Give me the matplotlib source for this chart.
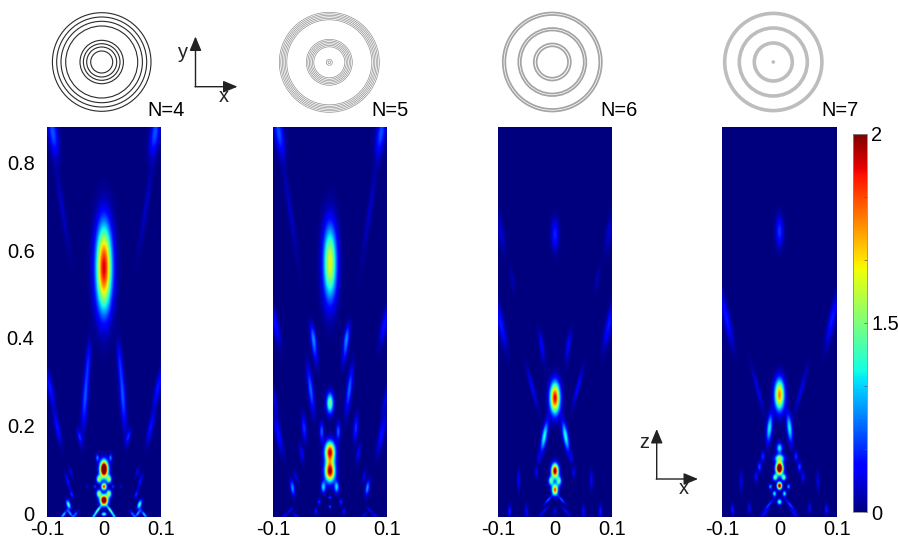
import matplotlib
matplotlib.use("Agg")
import matplotlib.pyplot as plt
import numpy as np

plt.rcParams.update({
    "font.family": ["Liberation Sans", "DejaVu Sans"],
    "font.size": 14.4,
})

W, H = 898, 538

# field range of the maps
X_RANGE = (-0.1, 0.1)
Z_RANGE = (-0.009, 0.882)

x_ticks = [-0.1, 0, 0.1]
x_labels = ["-0.1", "0", "0.1"]
z_ticks = [0, 0.2, 0.4, 0.6, 0.8]
z_labels = ["0", "0.2", "0.4", "0.6", "0.8"]
cbar_ticks = [0, 1 / 3, 2 / 3, 1, 4 / 3, 5 / 3, 2]
cbar_labels = ["0", "", "", "1.5", "", "", "2"]

panel_names = ["N=4", "N=5", "N=6", "N=7"]

# intensity spots: (x, z, width x, width z, peak, tilt dx/dz)
# spots with x > 0 also appear mirrored at -x
spots_n4 = [
    (0, 0.561, 0.0095, 0.066, 1.85, 0),
    (0.09, 0.87, 0.0055, 0.035, 0.42, 0.1),
    (0.074, 0.70, 0.003, 0.07, 0.13, 0.12),
    (0.033, 0.266, 0.0035, 0.05, 0.42, -0.05),
    (0.0275, 0.350, 0.003, 0.03, 0.22, -0.05),
    (0.095, 0.286, 0.0035, 0.03, 0.3, 0.15),
    (0.082, 0.194, 0.003, 0.025, 0.28, 0.15),
    (0.043, 0.174, 0.0025, 0.012, 0.32, 0.15),
    (0, 0.100, 0.0048, 0.013, 2.8, 0),
    (0, 0.060, 0.003, 0.005, 1.8, 0),
    (0, 0.029, 0.0045, 0.008, 2.6, 0),
    (0.0088, 0.077, 0.003, 0.006, 1.1, 0),
    (0.0088, 0.044, 0.003, 0.006, 1.1, 0),
    (0.016, 0.060, 0.0016, 0.003, 0.4, 0),
    (0.0117, 0.126, 0.002, 0.006, 0.5, 0),
    (0.03, 0.060, 0.0014, 0.003, 0.2, 0),
    (0, -0.003, 0.003, 0.003, 1.0, 0),
    (0.0105, 0.007, 0.002, 0.006, 1.0, -0.5),
    (0.0175, -0.007, 0.002, 0.006, 0.7, -0.5),
    (0.0626, 0.019, 0.0025, 0.007, 0.9, 0.2),
    (0.064, 0.072, 0.002, 0.012, 0.28, 0.2),
    (0.0567, 0.042, 0.002, 0.006, 0.35, 0.2),
    (0.0585, 0.093, 0.002, 0.008, 0.2, 0.2),
    (0.071, -0.004, 0.002, 0.006, 0.7, -0.5),
    (0.06, -0.001, 0.002, 0.006, 0.6, 0.5),
    (0.051, -0.004, 0.002, 0.006, 0.5, -0.5),
]
spots_n5 = [
    (0, 0.572, 0.0082, 0.058, 1.25, 0),
    (0.09, 0.87, 0.0055, 0.035, 0.4, 0.1),
    (0.07, 0.69, 0.003, 0.075, 0.13, 0.115),
    (0.096, 0.43, 0.004, 0.03, 0.28, 0.15),
    (0.0287, 0.403, 0.003, 0.02, 0.4, 0.13),
    (0.028, 0.374, 0.003, 0.025, 0.32, 0.13),
    (0.034, 0.282, 0.0032, 0.035, 0.45, 0.09),
    (0, 0.251, 0.0042, 0.016, 1.0, 0),
    (0.0146, 0.186, 0.0025, 0.014, 0.45, 0),
    (0.0456, 0.194, 0.0028, 0.02, 0.35, 0.05),
    (0.05, 0.136, 0.0025, 0.015, 0.22, 0.1),
    (0, 0.139, 0.006, 0.016, 1.9, 0),
    (0, 0.095, 0.006, 0.016, 2.0, 0),
    (0.0117, 0.059, 0.0028, 0.009, 0.7, 0),
    (0, 0.035, 0.0018, 0.0025, 0.4, 0),
    (0, 0.014, 0.0018, 0.0025, 0.45, 0),
    (0.0193, 0.025, 0.0018, 0.005, 0.35, 0),
    (0.0246, 0.003, 0.0018, 0.005, 0.3, 0),
    (0.066, 0.057, 0.0025, 0.012, 0.55, 0.1),
    (0.06, 0.083, 0.002, 0.01, 0.2, 0.2),
    (0.07, 0.006, 0.002, 0.005, 0.25, -0.6),
    (0.06, -0.006, 0.002, 0.005, 0.22, 0.6),
    (0.08, -0.006, 0.002, 0.005, 0.22, -0.6),
    (0.091, 0.18, 0.0035, 0.03, 0.28, 0.15),
    (0.098, 0.26, 0.003, 0.025, 0.18, 0.15),
]
spots_n6 = [
    (0, 0.637, 0.0045, 0.024, 0.32, 0),
    (0.095, 0.640, 0.004, 0.03, 0.14, 0.1),
    (0.075, 0.533, 0.0025, 0.02, 0.1, 0.1),
    (0.095, 0.43, 0.004, 0.035, 0.3, 0.15),
    (0.023, 0.388, 0.0025, 0.02, 0.14, 0.15),
    (0.0234, 0.373, 0.0025, 0.025, 0.14, 0.1),
    (0.04, 0.286, 0.0025, 0.03, 0.24, 0.2),
    (0, 0.263, 0.006, 0.024, 1.85, 0),
    (0.0187, 0.175, 0.0032, 0.023, 0.8, -0.13),
    (0, 0.096, 0.0042, 0.011, 2.1, 0),
    (0, 0.053, 0.0036, 0.0085, 1.7, 0),
    (0.007, 0.073, 0.003, 0.007, 0.95, 0),
    (0.0117, 0.030, 0.002, 0.007, 0.45, -0.6),
    (0.02, 0.003, 0.002, 0.008, 0.28, -0.6),
    (0.033, 0.093, 0.002, 0.008, 0.24, 0),
    (0.029, 0.125, 0.002, 0.008, 0.2, 0),
    (0.064, 0.075, 0.002, 0.015, 0.24, 0),
    (0.08, 0.003, 0.002, 0.01, 0.32, 0),
    (0.05, 0.003, 0.002, 0.01, 0.25, 0),
    (0, 0.003, 0.002, 0.006, 0.22, 0),
]
spots_n7 = [
    (0, 0.644, 0.0045, 0.024, 0.35, 0),
    (0.092, 0.443, 0.004, 0.04, 0.3, 0.16),
    (0, 0.270, 0.0058, 0.024, 1.55, 0),
    (0.0175, 0.194, 0.0032, 0.022, 0.75, -0.07),
    (0.038, 0.282, 0.0025, 0.035, 0.2, 0.2),
    (0, 0.148, 0.0035, 0.008, 0.75, 0),
    (0, 0.125, 0.0055, 0.006, 1.0, 0),
    (0, 0.102, 0.0042, 0.0095, 2.8, 0),
    (0.0076, 0.081, 0.0028, 0.005, 1.0, 0),
    (0, 0.062, 0.0028, 0.0055, 2.3, 0),
    (0.0158, 0.060, 0.002, 0.004, 0.6, 0),
    (0.0088, 0.044, 0.0022, 0.0045, 0.8, 0),
    (0, 0.025, 0.0028, 0.0045, 0.9, 0),
    (0.0187, 0.018, 0.002, 0.01, 0.4, -0.6),
    (0.026, -0.002, 0.002, 0.008, 0.3, -0.6),
    (0.029, 0.129, 0.0022, 0.008, 0.35, 0),
    (0.035, 0.105, 0.0025, 0.008, 0.4, 0),
    (0.041, 0.082, 0.002, 0.008, 0.28, 0),
    (0.067, 0.072, 0.002, 0.015, 0.2, 0),
    (0.0527, 0.011, 0.002, 0.008, 0.25, 0),
    (0.082, 0.007, 0.002, 0.008, 0.32, 0),
]

# zone plate ring radii, one list per panel
rings_n4 = [49.3, 45, 40.7, 36, 21.7, 18.3, 15, 11]
rings_n5 = [50, 48.5, 47, 45.5, 44, 42.5, 23, 21.5, 20, 18.5, 17, 15.5, 3, 1.3]
rings_n6 = [49.5, 47, 34, 31.5, 18.5, 15.7]
rings_n7 = [48.6, 34, 19, 1]

ring_colors = ["#2a2a2a", "#909090", "#a4a4a4", "#bdbdbd"]
ring_widths = [0.8, 0.5, 1.25, 2.6]
ring_centers = [(101.7, 62), (329.3, 62.3), (552.3, 62), (773.3, 62)]
panel_boxes = [(47, 161), (273, 387), (498, 612), (722, 837)]
label_centers = [166, 390, 619, 840]


def px_axes(fig, x0, x1, y0, y1):
    return fig.add_axes([x0 / W, 1 - y1 / H, (x1 - x0) / W, (y1 - y0) / H])


def build_field(spots, xx, zz):
    X, Z = np.meshgrid(xx, zz)
    field = np.zeros_like(X)
    for x0, z0, sx, sz, amp, tilt in spots:
        sides = [x0] if x0 == 0 else [x0, -x0]
        for side in sides:
            sign = 1 if side >= 0 else -1
            u = X - (side + sign * tilt * (Z - z0))
            field += amp * np.exp(-u**2 / (2 * sx**2) - (Z - z0) ** 2 / (2 * sz**2))
    return field


fig = plt.figure(figsize=(W / 100, H / 100), dpi=100)

xx = np.linspace(X_RANGE[0], X_RANGE[1], 230)
zz = np.linspace(Z_RANGE[0], Z_RANGE[1], 790)

all_spots = [spots_n4, spots_n5, spots_n6, spots_n7]
im = None
for i, (spots, (x0, x1)) in enumerate(zip(all_spots, panel_boxes)):
    ax = px_axes(fig, x0, x1, 127, 517)
    im = ax.imshow(build_field(spots, xx, zz), origin="lower", aspect="auto",
                   extent=[*X_RANGE, *Z_RANGE], cmap="jet", vmin=0, vmax=2,
                   interpolation="bilinear")
    ax.set_xticks(x_ticks)
    ax.set_xticklabels(x_labels)
    ax.set_yticks(z_ticks if i == 0 else [])
    if i == 0:
        ax.set_yticklabels(z_labels)
    ax.tick_params(axis="x", length=0, pad=2)
    ax.tick_params(axis="y", length=0, pad=9)
    for spine in ax.spines.values():
        spine.set_visible(False)

# colorbar, label positions as in the picture
cax = px_axes(fig, 853, 867, 134, 512)
cb = fig.colorbar(im, cax=cax)
cb.set_ticks(cbar_ticks)
cb.set_ticklabels(cbar_labels)
cb.ax.tick_params(direction="in", length=2, width=0.5, color="#555555", pad=3)
cb.outline.set_edgecolor("#888888")
cb.outline.set_linewidth(0.6)

# zone plate sketches
all_rings = [rings_n4, rings_n5, rings_n6, rings_n7]
for rings, (cx, cy), col, lw in zip(all_rings, ring_centers, ring_colors, ring_widths):
    rax = px_axes(fig, cx - 56, cx + 56, cy - 56, cy + 56)
    rax.set_xlim(-56, 56)
    rax.set_ylim(-56, 56)
    rax.axis("off")
    for r in rings:
        is_dot = r <= 1
        rax.add_patch(plt.Circle((0, 0), 1.8 if is_dot else r, fill=is_dot,
                                 color=col, lw=0 if is_dot else lw))

# overlay in pixel coordinates for arrows and labels
over = fig.add_axes([0, 0, 1, 1], facecolor="none")
over.set_xlim(0, W)
over.set_ylim(H, 0)
over.axis("off")

for name, xc in zip(panel_names, label_centers):
    over.text(xc, 110.5, name, ha="center", va="center", color="black")


def draw_axes_cross(ox, oy, top, right, vlabel, vpos, hpos):
    style = dict(arrowstyle="-|>,head_length=0.6,head_width=0.25", color="#222222",
                 lw=1.0, shrinkA=0, shrinkB=0)
    over.annotate("", xy=(ox, top), xytext=(ox, oy), arrowprops=style)
    over.annotate("", xy=(right, oy), xytext=(ox - 0.5, oy), arrowprops=style)
    over.text(*vpos, vlabel, ha="center", va="center", color="#222222")
    over.text(*hpos, "x", ha="center", va="center", color="#222222")


draw_axes_cross(195.5, 86.7, 36.5, 237.5, "y", (183, 52), (224, 97))
draw_axes_cross(656.7, 479, 429, 698, "z", (644, 443), (684, 488))

fig.savefig("out.png", dpi=100)
